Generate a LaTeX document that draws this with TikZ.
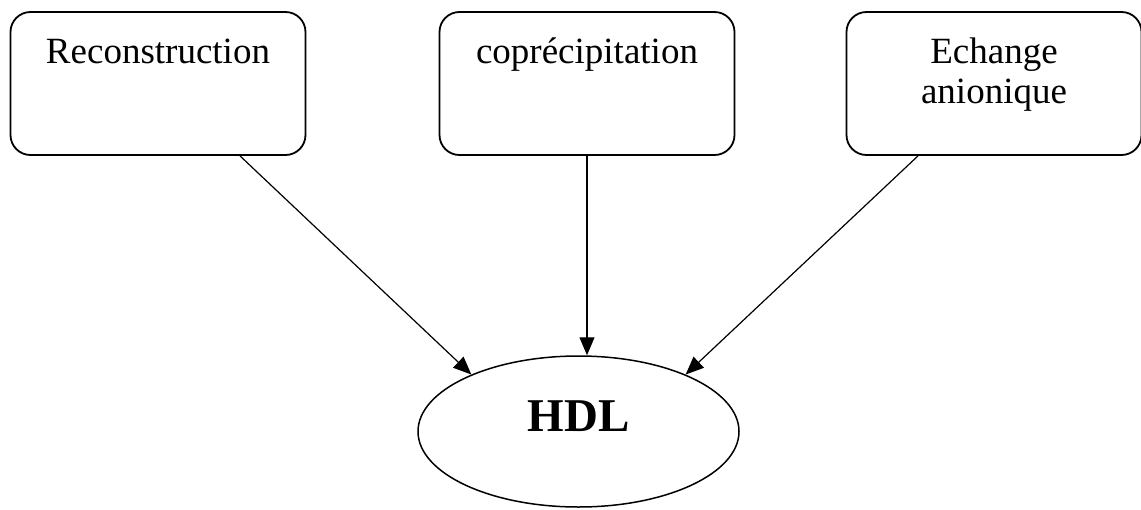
\documentclass[tikz,border=0pt]{standalone}
\usepackage{fontspec}
\setmainfont{Liberation Serif}
\usetikzlibrary{shapes.geometric,arrows.meta}

\begin{document}
\begin{tikzpicture}[
        x=1pt, y=-1pt,
        >={Triangle[length=18pt,width=15pt]},
        method/.style={draw, line width=1.8pt, rectangle, rounded corners=20pt, align=center, inner sep=0pt, minimum width=295pt, text height=51pt, text depth=92pt, font=\fontsize{37}{40}\selectfont},
        product/.style={draw, line width=1.5pt, ellipse, inner sep=0pt, minimum width=321pt, minimum height=151pt, text height=32pt, text depth=32pt, font=\fontsize{47}{50}\selectfont\bfseries}
    ]
        \useasboundingbox (0,0) rectangle (1141,509);

        \node[method] (recon) at (158,83.5) {Reconstruction};
        \node[method] (copre) at (587,83.5) {coprécipitation};
        \node[method, text height=91pt, text depth=52pt] (anion) at (994,83.5) {Echange\\anionique};
        \node[product] (hdl) at (578.5,431.5) {HDL};

        \draw[->, line width=1.2pt] ([xshift=82pt]recon.south) -- (hdl.152.5);
        \draw[->, line width=1.2pt] (copre.south) -- (copre.south |- hdl.north);
        \draw[->, line width=1.2pt] ([xshift=-76pt]anion.south) -- (hdl.28.4);
    \end{tikzpicture}
\end{document}
